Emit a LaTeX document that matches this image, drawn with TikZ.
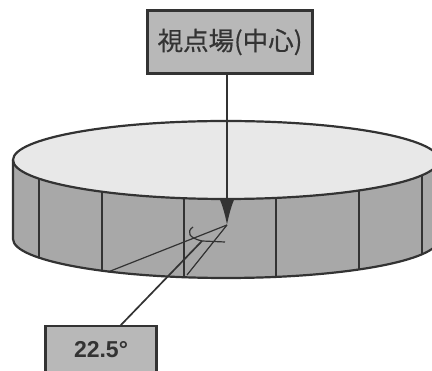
\documentclass[tikz,border=0pt]{standalone}
\usepackage{fontspec}
\setmainfont{Liberation Sans}
\newfontfamily\cjk[FakeBold=0.5]{Noto Sans CJK JP}
\usetikzlibrary{arrows.meta}
\definecolor{boxgray}{gray}{0.72}
\definecolor{wallgray}{gray}{0.66}
\definecolor{topgray}{gray}{0.91}
\definecolor{inkgray}{gray}{0.2}
\tikzset{
    labelbox/.style={draw=inkgray,line width=2.4pt,fill=boxgray,text=inkgray,inner sep=0pt},
    rimline/.style={draw=inkgray,line width=2.2pt},
    thinline/.style={draw=inkgray,line width=1.2pt}
}
\begin{document}
\begin{tikzpicture}[x=1pt,y=-1pt]
\clip (0,0) rectangle (432,371);
% Wall and top of the drum
\fill[wallgray] (13,160) -- (13,239) arc[start angle=180,end angle=0,x radius=213,y radius=39] -- (439,160) -- cycle;
\foreach \x/\ya/\yb in {39/179/257,102/192/271,184/198/277,276/198/277,359/191/270,422/176/254} {
    \draw[thinline] (\x,\ya) -- (\x,\yb);
}
\draw[rimline,fill=topgray] (226,160) ellipse[x radius=213,y radius=39];
\draw[rimline] (13,160) -- (13,239) arc[start angle=180,end angle=0,x radius=213,y radius=39] -- (439,160);

% Boxes
\node[labelbox,minimum width=165pt,minimum height=63pt] (viewpoint) at (230,42) {\cjk\fontsize{25.5}{28}\selectfont 視点場(中心)};
\node[labelbox,minimum width=111pt,minimum height=48pt] (angle) at (101,350) {\fontsize{23}{25}\selectfont\bfseries 22.5°};

% Sight lines and the angle between them
\coordinate (apex) at (227,225);
\coordinate (rimleft) at (108,272);
\coordinate (rimright) at (187,275);
\coordinate (anglemark) at (202,241);
\coordinate (tickend) at (225,242);
\coordinate (anglefoot) at (120,326);
\draw[thinline] (apex) -- (rimleft);
\draw[thinline] (apex) -- (rimright);
\draw[thinline] (193,227) .. controls (186,232) and (189,238) .. (anglemark) -- (tickend);
\draw[thinline,line width=1.7pt] (anglemark) -- (anglefoot);
\draw[line width=1.7pt,draw=inkgray,-{Latex[length=25pt,width=14pt]}] (viewpoint.south -| apex) -- (apex);
\end{tikzpicture}
\end{document}
